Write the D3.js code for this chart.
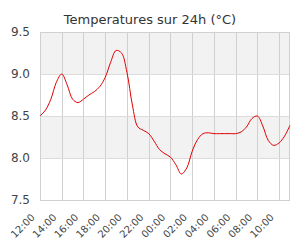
<!DOCTYPE html>
<html>
<head>
<meta charset="utf-8">
<script src="https://cdn.jsdelivr.net/npm/d3@7"></script>
<style>
  body { margin: 0; background: #fff; }
  svg text { font-family: "DejaVu Sans", sans-serif; fill: #444; }
</style>
</head>
<body>
<svg id="chart" width="300" height="250"></svg>
<script>
// half-hourly readings, starting at 12:00
var times = ["12:00","12:30","13:00","13:30","14:00","14:30","15:00","15:30","16:00","16:30",
             "17:00","17:30","18:00","18:30","19:00","19:30","20:00","20:30","21:00","21:30",
             "22:00","22:30","23:00","23:30","00:00","00:30","01:00","01:30","02:00","02:30",
             "03:00","03:30","04:00","04:30","05:00","05:30","06:00","06:30","07:00","07:30",
             "08:00","08:30","09:00","09:30","10:00","10:30","11:00"];
var temps = [8.50, 8.57, 8.70, 8.90, 9.00, 8.87, 8.70, 8.66, 8.70, 8.75,
             8.79, 8.85, 8.96, 9.14, 9.28, 9.25, 9.02, 8.63, 8.37, 8.33,
             8.29, 8.20, 8.10, 8.05, 8.01, 7.92, 7.81, 7.88, 8.08, 8.22,
             8.29, 8.30, 8.29, 8.29, 8.29, 8.29, 8.29, 8.31, 8.37, 8.47,
             8.50, 8.38, 8.21, 8.15, 8.18, 8.26, 8.39];
var yTicks = [7.5, 8.0, 8.5, 9.0, 9.5];
var title = "Temperatures sur 24h (°C)";

var svg = d3.select("#chart");
var margin = {top: 32, right: 10, bottom: 50, left: 40},
    width = +svg.attr("width") - margin.left - margin.right,
    height = +svg.attr("height") - margin.top - margin.bottom;

var parse = d3.timeParse("%Y-%m-%d %H:%M");
var prevH = -1, day = 1;
var data = times.map(function(t, i) {
    var h = +t.split(":")[0];
    if (h < prevH) day++;
    prevH = h;
    return {date: parse("2024-01-0" + day + " " + t), v: temps[i]};
});

var x = d3.scaleTime()
    .domain(d3.extent(data, function(d) { return d.date; }))
    .range([0, width]);
var y = d3.scaleLinear()
    .domain([7.5, 9.5])
    .range([height, 0]);

var g = svg.append("g")
    .attr("transform", "translate(" + margin.left + "," + margin.top + ")");

// alternating bands
g.selectAll(".band")
    .data(d3.range(0, yTicks.length - 1))
    .enter().append("rect")
    .attr("x", 0)
    .attr("width", width)
    .attr("y", function(i) { return y(yTicks[i + 1]); })
    .attr("height", function(i) { return y(yTicks[i]) - y(yTicks[i + 1]); })
    .style("fill", function(i) { return i % 2 == 1 ? "#f2f2f2" : "#fff"; });

var xTicks = x.ticks(d3.timeHour.every(2));

g.append("g")
    .attr("class", "grid")
    .selectAll("line")
    .data(xTicks)
    .enter().append("line")
    .attr("x1", function(d) { return Math.round(x(d)) + 0.5; })
    .attr("x2", function(d) { return Math.round(x(d)) + 0.5; })
    .attr("y1", 0)
    .attr("y2", height)
    .style("stroke", "#d0d0d0");

g.append("g")
    .selectAll("line")
    .data(yTicks)
    .enter().append("line")
    .attr("x1", 0)
    .attr("x2", width)
    .attr("y1", function(d) { return Math.round(y(d)) + 0.5; })
    .attr("y2", function(d) { return Math.round(y(d)) + 0.5; })
    .style("stroke", "#dcdcdc");

g.append("rect")
    .attr("x", 0.5)
    .attr("y", 0.5)
    .attr("width", width - 1)
    .attr("height", height)
    .style("fill", "none")
    .style("stroke", "#d0d0d0");

// y labels
var yAxis = d3.axisLeft(y).tickValues(yTicks).tickSize(0).tickPadding(10)
    .tickFormat(d3.format(".1f"));
g.append("g").call(yAxis)
    .call(function(a) { a.select(".domain").remove(); })
    .selectAll("text")
    .style("font-size", "12px")
    .style("fill", "#444");

// x labels
var xAxis = d3.axisBottom(x).tickValues(xTicks).tickSize(0)
    .tickFormat(d3.timeFormat("%H:%M"));
g.append("g")
    .attr("transform", "translate(0," + height + ")")
    .call(xAxis)
    .call(function(a) { a.select(".domain").remove(); })
    .selectAll("text")
    .style("font-size", "10px")
    .style("fill", "#444")
    .style("text-anchor", "end")
    .attr("y", 0)
    .attr("dy", 0)
    .attr("transform", "translate(-5,18) rotate(-45)");

var line = d3.line()
    .curve(d3.curveCatmullRom.alpha(0.5))
    .x(function(d) { return x(d.date); })
    .y(function(d) { return y(d.v); });

g.append("path")
    .datum(data)
    .attr("d", line)
    .style("fill", "none")
    .style("stroke", "#e00000")
    .style("stroke-width", 1);

svg.append("text")
    .attr("x", 150)
    .attr("y", 24)
    .style("text-anchor", "middle")
    .style("font-size", "13px")
    .style("fill", "#333")
    .text(title);
</script>
</body>
</html>
